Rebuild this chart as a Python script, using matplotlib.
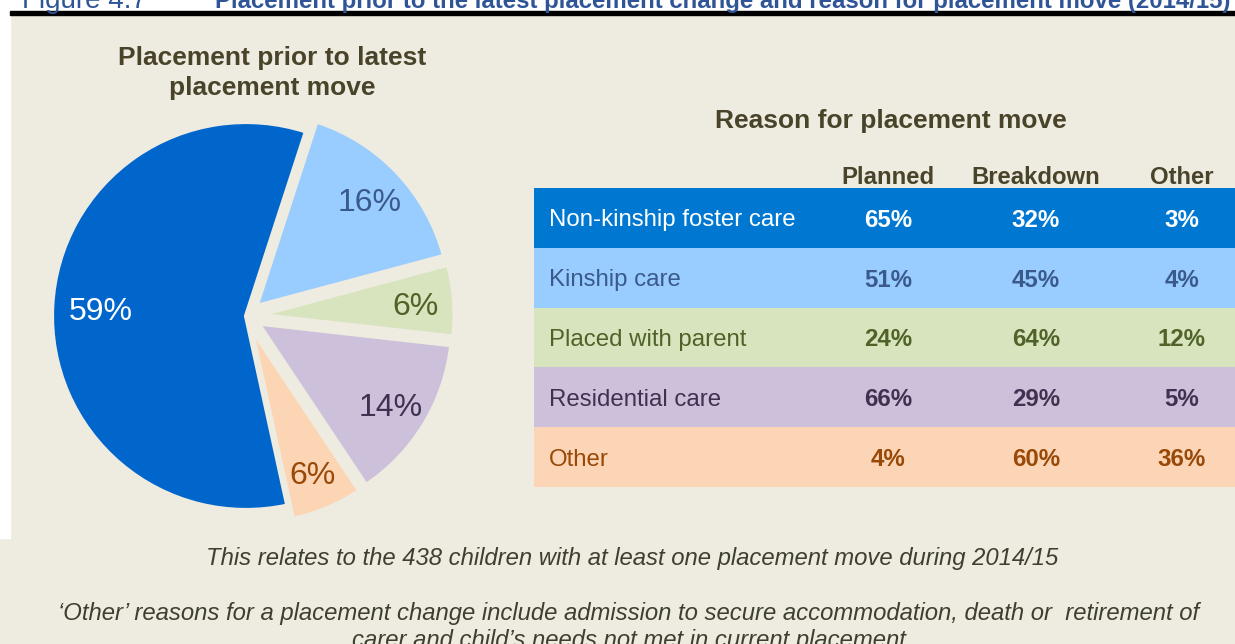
import numpy as np
import matplotlib.pyplot as plt
from matplotlib.patches import Rectangle

plt.rcParams['font.family'] = ['Liberation Sans', 'DejaVu Sans']

# pie data (clockwise from the top of the light blue slice)
pie_labels = ["Kinship care", "Placed with parent", "Residential care", "Other", "Non-kinship foster care"]
pie_values = [16, 6, 14, 6, 59]
pie_colors = ["#99CCFF", "#D7E4BD", "#CCC0DA", "#FCD5B5", "#0066CC"]
pie_text_colors = ["#3B5A8C", "#4F6228", "#3F3151", "#984807", "white"]

# table data
row_labels = ["Non-kinship foster care", "Kinship care", "Placed with parent", "Residential care", "Other"]
col_labels = ["Planned", "Breakdown", "Other"]
planned = [65, 51, 24, 66, 4]
breakdown = [32, 45, 64, 29, 60]
other = [3, 4, 12, 5, 36]
row_colors = ["#0078D2", "#99CCFF", "#D7E4BD", "#CCC0DA", "#FBD5B5"]
row_text_colors = ["white", "#3B5A8C", "#4F6228", "#3F3151", "#984807"]

W, H = 1235, 644
bg = "#EEEBE0"
dark = "#494429"

fig = plt.figure(figsize=(W / 100, H / 100), dpi=100)
fig.patch.set_facecolor(bg)


def fx(px):
    return px / W


def fy(py):
    return 1 - py / H


# white strips at top and left, black rule under the cut-off heading
fig.patches.append(Rectangle((0, fy(12)), 1, 12 / H, transform=fig.transFigure, color="white", zorder=0))
fig.patches.append(Rectangle((0, fy(538)), fx(10), 538 / H, transform=fig.transFigure, color="white", zorder=0))
fig.patches.append(Rectangle((fx(10), fy(14.5)), 1, 3 / H, transform=fig.transFigure, color="black", zorder=1))
fig.text(fx(22), fy(8), "Figure 4.7", color="#2F5597", fontsize=20, va="baseline")
fig.text(fx(215), fy(8), "Placement prior to the latest placement change and reason for placement move (2014/15)",
         color="#2F5597", fontsize=17.3, fontweight="bold", va="baseline")

# pie
r_px = 194
ax = fig.add_axes([fx(246 - 1.2 * r_px), fy(316 + 1.2 * r_px), fx(2.4 * r_px), 2.4 * r_px / H])
ax.set_facecolor(bg)
wedges, _ = ax.pie(pie_values, colors=pie_colors, startangle=72, counterclock=False,
                   explode=[0.075, 0.075, 0.075, 0.075, 0],
                   wedgeprops=dict(edgecolor=bg, linewidth=3))
for w, v, c in zip(wedges, pie_values, pie_text_colors):
    ang = np.deg2rad((w.theta1 + w.theta2) / 2)
    cx, cy = w.center
    d = 0.75 if v > 50 else 0.8
    ax.text(cx + d * np.cos(ang), cy + d * np.sin(ang), f"{v}%", color=c, fontsize=23,
            ha="center", va="center_baseline")
ax.set_xlim(-1.2, 1.2)
ax.set_ylim(-1.2, 1.2)
ax.set_aspect("equal")
ax.axis("off")

fig.text(fx(272), fy(73), "Placement prior to latest\nplacement move", color=dark, fontsize=19,
         fontweight="bold", ha="center", va="center", linespacing=1.3)

# table
tax = fig.add_axes([fx(534), fy(487), fx(W - 534), (487 - 188) / H])
y = np.arange(len(row_labels))
tax.barh(y, 1, height=1, left=0, color=row_colors)
tax.set_xlim(0, 1)
tax.set_ylim(len(row_labels) - 0.5, -0.5)
tax.axis("off")
col_x = [0.505, 0.716, 0.924]
for i, lab in enumerate(row_labels):
    tax.text(0.021, i, lab, color=row_text_colors[i], fontsize=17.3, va="center_baseline", ha="left")
    for xc, vals in zip(col_x, [planned, breakdown, other]):
        tax.text(xc, i, f"{vals[i]}%", color=row_text_colors[i], fontsize=17.3, fontweight="bold",
                 va="center_baseline", ha="center")
for xc, lab in zip(col_x, col_labels):
    tax.text(xc, -0.72, lab, color=dark, fontsize=17.2, fontweight="bold", ha="center",
             va="center_baseline", clip_on=False)
tax.text(0.509, -1.67, "Reason for placement move", color=dark, fontsize=19, fontweight="bold",
         ha="center", va="center_baseline", clip_on=False)

# footnotes
foot = "#3F3F30"
fig.text(fx(632), fy(556), "This relates to the 438 children with at least one placement move during 2014/15",
         color=foot, fontsize=17.2, style="italic", ha="center", va="center_baseline")
fig.text(fx(629), fy(602), "\u2018Other\u2019 reasons for a placement change include admission to secure accommodation, death or  retirement of\ncarer and child\u2019s needs not met in current placement",
         color=foot, fontsize=17.2, style="italic", ha="center", va="top", linespacing=1.25)

fig.savefig("out.png", dpi=100, facecolor=bg)
